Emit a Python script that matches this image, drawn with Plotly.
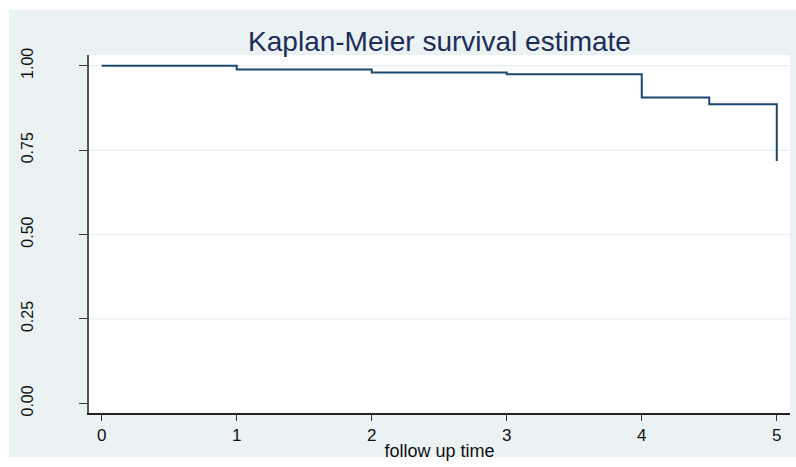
import plotly.graph_objects as go

# Data
follow_up_time = [0, 1, 2, 3, 4, 4.5, 5]
survival = [1.0, 0.989, 0.980, 0.9745, 0.906, 0.886, 0.7177]
y_tick_values = [0, 0.25, 0.5, 0.75, 1.0]
y_tick_labels = ["0.00", "0.25", "0.50", "0.75", "1.00"]
x_tick_values = [0, 1, 2, 3, 4, 5]
x_tick_labels = ["0", "1", "2", "3", "4", "5"]
grid_values = [0.25, 0.5, 0.75, 1.0]

W, H = 796, 467
L, R, T, B = 89, 6, 55, 54
pw, ph = W - L - R, H - T - B

NAVY = "#1a476f"
TITLE = "#1e2d57"
OUTER = "#eaf2f3"
FONT = "Liberation Sans, Arial, sans-serif"

fig = go.Figure()
fig.add_trace(go.Scatter(
    x=follow_up_time, y=survival, mode="lines",
    line=dict(shape="hv", color=NAVY, width=2),
    showlegend=False, hoverinfo="skip",
))

def px_x(p):
    return (p - L) / pw

def px_y(p):
    return (H - B - p) / ph

shapes = [
    dict(type="rect", xref="paper", yref="paper", layer="below",
         x0=px_x(9), x1=px_x(800), y0=px_y(457), y1=px_y(10),
         fillcolor=OUTER, line=dict(width=0)),
    dict(type="rect", xref="paper", yref="paper", layer="below",
         x0=0, x1=1, y0=0, y1=1, fillcolor="white", line=dict(width=0)),
]
for g in grid_values:
    shapes.append(dict(type="line", xref="paper", yref="y", layer="below",
                       x0=0, x1=1, y0=g, y1=g,
                       line=dict(color="#e6eef0", width=1.2)))

fig.update_layout(
    width=W, height=H,
    margin=dict(l=L, r=R, t=T, b=B, pad=0),
    paper_bgcolor="white", plot_bgcolor="rgba(0,0,0,0)",
    shapes=shapes,
    title=dict(text="Kaplan-Meier survival estimate", x=0.5, xref="paper",
               y=1 - 41 / H, yref="container", xanchor="center", yanchor="middle",
               font=dict(family=FONT, size=28, color=TITLE)),
    font=dict(family=FONT, color="#111"),
)
fig.update_xaxes(
    range=[-0.094, 5.098], tickvals=x_tick_values, ticktext=x_tick_labels,
    showgrid=False, zeroline=False, showline=True, linecolor="#222", linewidth=1.5,
    ticks="outside", ticklen=6, tickcolor="#333", tickwidth=1,
    tickfont=dict(family=FONT, size=17, color="#111"),
    title=dict(text="follow up time", standoff=0,
               font=dict(family=FONT, size=18, color="#111")),
)
fig.update_yaxes(
    range=[-0.0287, 1.0317], tickvals=y_tick_values, ticktext=y_tick_labels,
    showgrid=False, zeroline=False, showline=True, linecolor="#555", linewidth=1.5,
    ticks="outside", ticklen=8, tickcolor="#333", tickwidth=1,
    tickangle=-90, ticklabelstandoff=40,
    tickfont=dict(family=FONT, size=16, color="#111"),
)

fig.write_html("out.html")
